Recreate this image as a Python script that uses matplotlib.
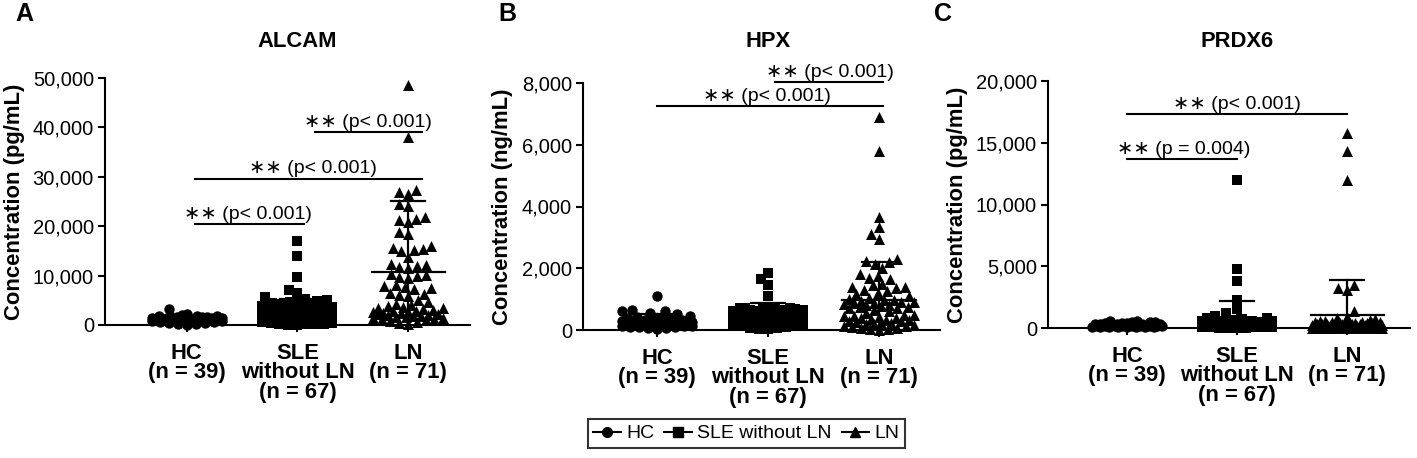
import numpy as np
import matplotlib
matplotlib.use('Agg')
import matplotlib.pyplot as plt
from matplotlib.lines import Line2D
from matplotlib.transforms import blended_transform_factory

plt.rcParams.update({
    'font.family': ['Liberation Sans', 'DejaVu Sans'],
    'axes.linewidth': 1.5,
    'xtick.major.width': 1.5,
    'ytick.major.width': 1.5,
})

# ---------------- data ----------------
groups = ['HC', 'SLE without LN', 'LN']
group_labels = ['HC\n(n = 39)', 'SLE\nwithout LN\n(n = 67)', 'LN\n(n = 71)']

# Panel A - ALCAM (pg/mL)
alcam_hc = [3300, 2200, 2000, 1900, 1800, 1750, 1700, 1650, 1600, 1550,
            1500, 1500, 1450, 1400, 1400, 1350, 1300, 1300, 1250, 1200,
            1200, 1150, 1100, 1100, 1050, 1000, 1000, 950, 900, 850,
            800, 750, 700, 600, 500, 400, 300, 200, 100]
alcam_sle = [17000, 14000, 9800, 7000, 6400, 5600, 5300, 5100, 4900, 4700,
             4500, 4400, 4200, 4000, 3900, 3800, 3700, 3600, 3500, 3400,
             3300, 3200, 3100, 3000, 3000, 2900, 2800, 2700, 2600, 2500,
             2500, 2400, 2300, 2200, 2200, 2100, 2000, 2000, 1900, 1800,
             1800, 1700, 1600, 1600, 1500, 1400, 1400, 1300, 1200, 1100,
             1000, 1000, 900, 800, 700, 600, 500, 400, 300, 250,
             200, 150, 100, 50, 3000, 2600, 2400]
alcam_ln = [48500, 38000, 27300, 27000, 26500, 24500, 24000, 21800, 21500, 21200,
            20800, 18800, 18500, 15900, 15600, 15400, 15200, 14900, 13800, 12400,
            12200, 12000, 11800, 11500, 10400, 10200, 10000, 9800, 9500, 8000,
            7800, 7700, 7500, 7300, 6500, 6300, 6100, 5900, 5000, 4600,
            4200, 4000, 3900, 3700, 3500, 3400, 3200, 3000, 2900, 2800,
            2700, 2600, 2500, 2400, 2300, 2200, 2100, 2000, 1900, 1800,
            1700, 1600, 1500, 1400, 1300, 1200, 1000, 800, 600, 400,
            200]
alcam_mean = [1200, 3800, 10800]
alcam_sd = [600, 1500, 14300]

# Panel B - HPX (ng/mL)
hpx_hc = [1100, 650, 620, 600, 560, 520, 450, 420, 400, 380,
          360, 350, 340, 320, 300, 300, 280, 270, 260, 250,
          240, 230, 220, 210, 200, 190, 180, 170, 160, 150,
          140, 130, 120, 110, 100, 90, 80, 60, 40]
hpx_sle = [1850, 1650, 1450, 1100, 720, 710, 700, 700, 690, 680,
           670, 660, 650, 640, 630, 620, 610, 600, 590, 580,
           570, 560, 550, 540, 530, 520, 510, 500, 490, 480,
           470, 460, 450, 440, 430, 420, 410, 400, 390, 380,
           370, 360, 350, 340, 330, 320, 310, 300, 290, 280,
           270, 260, 250, 240, 230, 220, 210, 200, 180, 160,
           140, 120, 100, 80, 60, 40, 20]
hpx_ln = [6900, 5800, 3650, 3350, 3100, 2950, 2300, 2250, 2200, 2150,
          2000, 1800, 1750, 1700, 1650, 1500, 1450, 1400, 1400, 1350,
          1300, 1250, 1200, 1150, 1100, 1050, 1000, 980, 960, 940,
          920, 900, 880, 860, 840, 820, 800, 780, 760, 740,
          720, 700, 650, 600, 550, 500, 480, 460, 440, 420,
          400, 380, 360, 340, 320, 300, 280, 260, 240, 220,
          200, 180, 160, 140, 120, 100, 80, 60, 40, 20, 10]
hpx_mean = [300, 480, 970]
hpx_sd = [230, 380, 1240]

# Panel C - PRDX6 (pg/mL)
prdx6_hc = [600, 550, 500, 480, 450, 420, 400, 380, 360, 350,
            340, 320, 300, 300, 280, 270, 260, 250, 240, 230,
            220, 210, 200, 200, 190, 180, 170, 160, 150, 140,
            130, 120, 110, 100, 90, 80, 70, 60, 50]
prdx6_sle = [12000, 4800, 3800, 2300, 1500, 1200, 950, 850, 800, 700,
             650, 600, 580, 560, 540, 520, 500, 480, 460, 440,
             420, 400, 390, 380, 370, 360, 350, 340, 330, 320,
             310, 300, 290, 280, 270, 260, 250, 240, 230, 220,
             210, 200, 190, 180, 170, 160, 150, 140, 130, 120,
             110, 100, 95, 90, 85, 80, 75, 70, 65, 60,
             55, 50, 45, 40, 35, 30, 25]
prdx6_ln = [15800, 14300, 12000, 3500, 3200, 3050, 1400, 900, 800, 700,
            650, 600, 560, 520, 500, 480, 460, 440, 420, 400,
            390, 380, 370, 360, 350, 340, 330, 320, 310, 300,
            290, 280, 270, 260, 250, 240, 230, 220, 210, 200,
            190, 180, 170, 160, 150, 140, 130, 120, 110, 100,
            95, 90, 85, 80, 75, 70, 65, 60, 55, 50,
            45, 40, 35, 30, 25, 20, 15, 10, 5, 3, 1]
prdx6_mean = [250, 650, 1050]
prdx6_sd = [130, 1550, 2850]

# ---------------- layout ----------------
W, H = 1417, 458
fig = plt.figure(figsize=(W / 100, H / 100), dpi=100)


def px_axes(left, right, y0, ytop):
    return fig.add_axes([left / W, (H - y0) / H, (right - left) / W, (y0 - ytop) / H])


markers = ['o', 's', '^']
msizes = [56, 50, 62]


def swarm(ax, xc, vals, d=9.0, cap=35):
    vals = np.asarray(vals, float)
    pts = ax.transData.transform(np.column_stack([np.full(len(vals), xc), vals]))
    ypix = pts[:, 1]
    ppu = ax.transData.transform([[1, 0]])[0, 0] - ax.transData.transform([[0, 0]])[0, 0]
    placed = []
    offs = np.zeros(len(vals))
    for i in np.argsort(ypix):
        y = ypix[i]
        near = [(px, py) for px, py in placed if abs(py - y) < d]
        cands = [0.0]
        for px, py in near:
            dx = np.sqrt(d * d - (py - y) ** 2)
            cands += [px + dx, px - dx]
        cands = sorted(cands, key=lambda c: (abs(c), c))
        chosen = None
        for c in cands:
            if abs(c) > cap:
                continue
            if all((c - px) ** 2 + (y - py) ** 2 >= d * d - 1e-6 for px, py in near):
                chosen = c
                break
        if chosen is None:
            grid = np.linspace(-cap, cap, 29)
            score = [min([(g - px) ** 2 + (y - py) ** 2 for px, py in near] or [1e9]) for g in grid]
            chosen = grid[int(np.argmax(score))]
        placed.append((chosen, y))
        offs[i] = chosen
    return xc + offs / ppu


def sig(ax, x0, x1, y, xt, text):
    ax.plot([x0, x1], [y, y], color='black', lw=1.5, clip_on=False, zorder=4)
    ax.annotate(text, (xt, y), xytext=(0, 1), textcoords='offset points',
                ha='center', va='bottom', fontsize=14, annotation_clip=False)


def panel(ax, data, means, sds, ymax, step, ticklabels, ylabel, title, title_y, ylab_x, letter, letter_x, xlim):
    ax.set_xlim(*xlim)
    ax.set_ylim(0, ymax)
    for k, vals in enumerate(data):
        xs = swarm(ax, k, vals)
        ax.scatter(xs, vals, marker=markers[k], s=msizes[k], color='black',
                   linewidths=0, clip_on=False, zorder=3)
        m, s = means[k], sds[k]
        ax.plot([k - 0.33, k + 0.33], [m, m], color='black', lw=1.6, zorder=5, clip_on=False)
        ax.plot([k, k], [max(m - s, 0), m + s], color='black', lw=1.6, zorder=5, clip_on=False)
        ax.plot([k - 0.155, k + 0.155], [m + s, m + s], color='black', lw=1.6, zorder=5, clip_on=False)
    ax.spines['top'].set_visible(False)
    ax.spines['right'].set_visible(False)
    ax.set_yticks(np.arange(0, ymax + 1, step))
    ax.set_yticklabels(ticklabels, fontsize=14.5)
    ax.tick_params(axis='y', length=5, pad=3)
    ax.set_xticks([0, 1, 2])
    ax.set_xticklabels(group_labels, fontsize=15.8, fontweight='bold', linespacing=0.9, va='top')
    ax.tick_params(axis='x', length=5, pad=8)
    ax.set_ylabel(ylabel, fontsize=15.8, fontweight='bold')
    ax.yaxis.set_label_coords(ylab_x, 0.5)
    tr = blended_transform_factory(ax.transData, ax.transAxes)
    ax.text(1, title_y, title, transform=tr, ha='center', va='center', fontsize=15.8, fontweight='bold')
    fig.text(letter_x / W, 1 - 14 / H, letter, ha='center', va='center', fontsize=18, fontweight='bold')


axA = px_axes(105, 470, 325, 78)
panel(axA, [alcam_hc, alcam_sle, alcam_ln], alcam_mean, alcam_sd, 50000, 10000,
      ['0', '10,000', '20,000', '30,000', '40,000', '50,000'],
      'Concentration (pg/mL)', 'ALCAM', 1.146, -0.219, 'A', 24, (-0.74, 2.56))
sig(axA, 0.07, 1.06, 20450, 0.55, '∗∗ (p< 0.001)')
sig(axA, 0.07, 2.13, 29600, 1.14, '∗∗ (p< 0.001)')
sig(axA, 1.16, 2.13, 39000, 1.64, '∗∗ (p< 0.001)')

axB = px_axes(583, 940, 330, 83)
panel(axB, [hpx_hc, hpx_sle, hpx_ln], hpx_mean, hpx_sd, 8000, 2000,
      ['0', '2,000', '4,000', '6,000', '8,000'],
      'Concentration (ng/mL)', 'HPX', 1.166, -0.196, 'B', 507, (-0.667, 2.55))
sig(axB, 0.0, 2.04, 7250, 0.99, '∗∗ (p< 0.001)')
sig(axB, 1.06, 2.04, 8030, 1.56, '∗∗ (p< 0.001)')

axC = px_axes(1048, 1410, 328, 81)
panel(axC, [prdx6_hc, prdx6_sle, prdx6_ln], prdx6_mean, prdx6_sd, 20000, 5000,
      ['0', '5,000', '10,000', '15,000', '20,000'],
      'Concentration (pg/mL)', 'PRDX6', 1.158, -0.221, 'C', 943, (-0.72, 2.57))
sig(axC, 0.0, 1.0, 13680, 0.51, '∗∗ (p = 0.004)')
sig(axC, 0.0, 2.0, 17330, 1.0, '∗∗ (p< 0.001)')

handles = [Line2D([], [], color='black', marker=m, lw=1.5, ms=7) for m in markers]
leg = fig.legend(handles, groups, loc='center', bbox_to_anchor=(746.5 / W, 24.5 / H),
                 ncol=3, fontsize=14, frameon=True, fancybox=False, handlelength=1.4,
                 handletextpad=0.3, columnspacing=0.5, borderpad=0.3, borderaxespad=0)
leg.get_frame().set_edgecolor('black')
leg.get_frame().set_linewidth(1.5)

fig.savefig('out.png', dpi=100)
